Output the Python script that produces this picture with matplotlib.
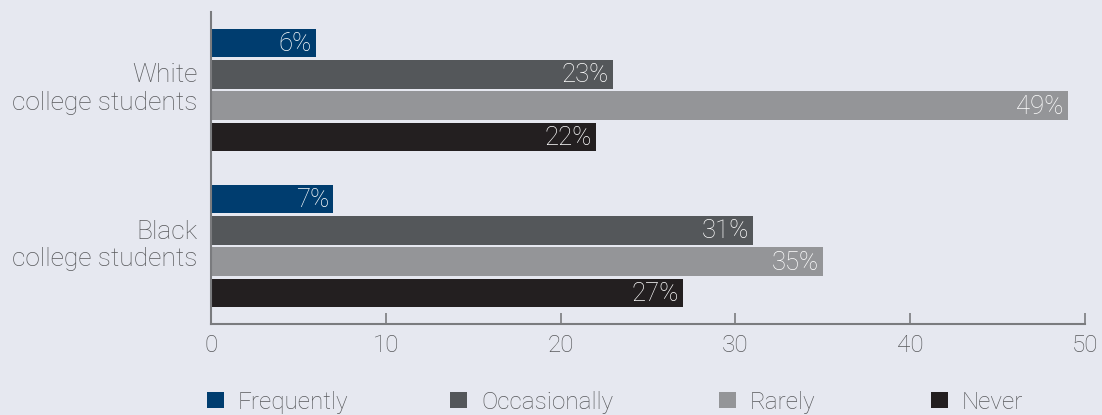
import matplotlib.pyplot as plt
import matplotlib.transforms as mtransforms
from matplotlib.patches import Patch
import numpy as np

groups = ["White\ncollege students", "Black\ncollege students"]
series = ["Frequently", "Occasionally", "Rarely", "Never"]
values = {
    "Frequently": [6, 7],
    "Occasionally": [23, 31],
    "Rarely": [49, 35],
    "Never": [22, 27],
}
colors = ["#003d6f", "#54575a", "#949598", "#231f20"]
xticks = [0, 10, 20, 30, 40, 50]

bg = "#e6e8f0"
txt = "#58595c"
plt.rcParams["font.family"] = ["Roboto", "DejaVu Sans"]
plt.rcParams["font.weight"] = "light"

W, H = 1102, 415
fig = plt.figure(figsize=(W / 100, H / 100), dpi=100, facecolor=bg)
ax = fig.add_axes([211 / W, 91 / H, (1085 - 211) / W, 312 / H])
ax.set_facecolor(bg)

centers = np.array([0.0, 5.0])
offsets = [-1.5, -0.5, 0.5, 1.5]
for s, c, off in zip(series, colors, offsets):
    ys = centers + off
    ax.barh(ys, values[s], height=0.91, color=c, zorder=2)
    for y, v in zip(ys, values[s]):
        ax.text(v - 0.22, y + 0.03, f"{v}%", ha="right", va="center",
                color="white", fontsize=18.5, fontweight="light", zorder=3)

ax.set_xlim(0, 50)
ax.set_ylim(7.5, -2.5)
ax.set_yticks(centers)
ax.set_yticklabels(groups, fontsize=19, color=txt, linespacing=1.17,
                   fontweight="light")
ax.tick_params(axis="y", length=0, pad=9.5)
# nudge the group labels slightly upward
lift = mtransforms.ScaledTranslation(0, 5 / 100, fig.dpi_scale_trans)
for lbl in ax.get_yticklabels():
    lbl.set_transform(lbl.get_transform() + lift)

ax.set_xticks(xticks)
ax.set_xticklabels([str(t) for t in xticks], fontsize=17.5, color=txt,
                   fontweight="light")
ax.tick_params(axis="x", direction="in", length=8, width=1.2, color="#7a7b7e",
               pad=7)
for side in ["top", "right"]:
    ax.spines[side].set_visible(False)
for side in ["left", "bottom"]:
    ax.spines[side].set_color("#7a7b7e")
    ax.spines[side].set_linewidth(1.5)

# one legend entry per column, each anchored at its own square
legend_x = [207, 450, 719, 931]
for s, c, lx in zip(series, colors, legend_x):
    fig.legend([Patch(facecolor=c, edgecolor="none")], [s], loc="center left",
               bbox_to_anchor=(lx / W, 1 - 402 / H), frameon=False,
               handlelength=0.68, handleheight=0.68,
               handletextpad=0.6, borderpad=0, borderaxespad=0,
               labelcolor=txt, prop={"size": 17.5, "weight": "light"})

fig.savefig("out.png", dpi=100, facecolor=bg)
